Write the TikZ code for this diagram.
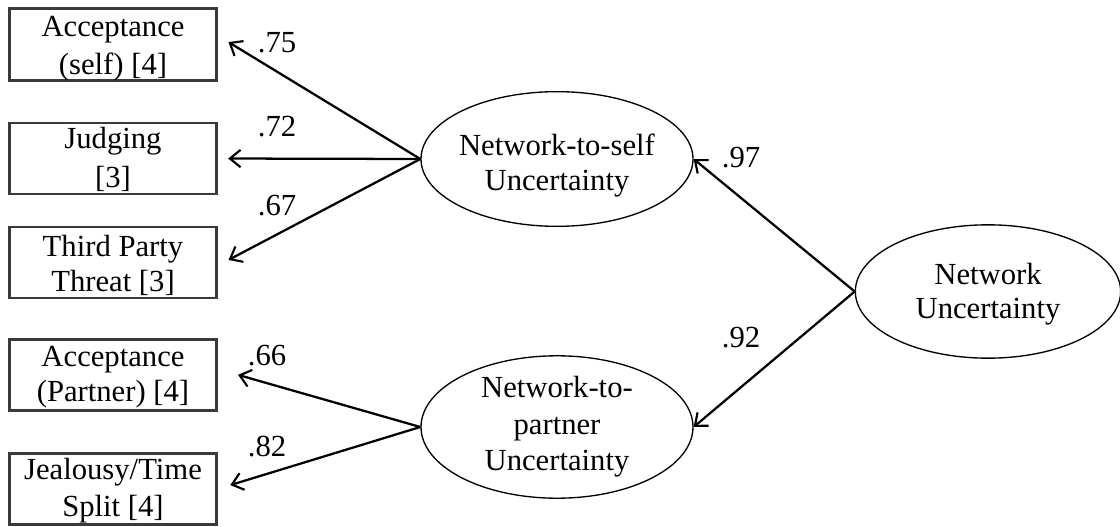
\documentclass[tikz,border=0pt]{standalone}
\usepackage{fontspec}
\setmainfont{Liberation Serif}
\usetikzlibrary{arrows.meta,shapes.geometric}
\definecolor{boxline}{HTML}{3A3A3A}
\newcommand\fl[1]{\rule{0pt}{#1}}
\begin{document}
\begin{tikzpicture}[x=0.75pt,y=-0.75pt,
  every node/.style={font=\fontsize{23}{27.5}\selectfont},
  lsk/.style={font=\fontsize{23}{#1}\selectfont},
  obs/.style={draw=boxline,line width=1.8pt,rectangle,minimum width=155pt,minimum height=53.5pt,inner sep=0pt,align=center},
  lat/.style={draw,line width=1pt,ellipse,inner xsep=-4pt,inner ysep=0pt,align=center},
  path/.style={draw,line width=1.7pt,-{Straight Barb[length=8pt,width=13pt,line width=1.6pt]}},
  coef/.style={inner sep=0pt}]
\useasboundingbox (0,0) rectangle (1120,527);
\node[obs,lsk=28.5pt] (b1) at (113,44.5) {\fl{20.8pt}Acceptance\\(self) [4]};
\node[obs,lsk=29pt] (b2) at (113,158.5) {\fl{17.4pt}Judging\\{[3]}};
\node[obs,lsk=26.3pt] (b3) at (113,262.5) {\fl{20.2pt}Third Party\\Threat [3]};
\node[obs,lsk=26.3pt] (b4) at (113,375) {\fl{19pt}Acceptance\\(Partner) [4]};
\node[obs,lsk=27.5pt] (b5) at (113,489) {\fl{18.2pt}Jealousy/Time\\Split [4]};
\node[lat,lsk=26.3pt,minimum width=204pt,minimum height=101pt] (self) at (557,159) {\fl{25.7pt}Network-to-self\\Uncertainty};
\node[lat,lsk=27.3pt,minimum width=204pt,minimum height=100pt] (partner) at (557,427) {Network-to-\\partner\\Uncertainty};
\node[lat,lsk=25.5pt,minimum width=199pt,minimum height=100pt] (net) at (988,291.5) {\fl{19.3pt}Network\\Uncertainty};
\draw[path,shorten >=9.6pt] (self.west) -- ([yshift=6.8pt]b1.east);
\draw[path,shorten >=8pt] (self.west) -- (b2.east);
\draw[path,shorten >=9.3pt] (self.west) -- ([yshift=-2.4pt]b3.east);
\draw[path,shorten >=16pt] (partner.west) -- ([yshift=4.5pt]b4.east);
\draw[path,shorten >=10pt] (partner.west) -- (b5.east);
\draw[path] (net.west) -- (self.east);
\draw[path] (net.west) -- (partner.east);
\node[coef] (c1) at (277,43) {.75};
\node[coef] (c2) at (277,127) {.72};
\node[coef] (c3) at (277,206) {.67};
\node[coef] (c4) at (267,356) {.66};
\node[coef] (c5) at (267,447) {.82};
\node[coef] (c6) at (741,158) {.97};
\node[coef] (c7) at (741,338) {.92};
\end{tikzpicture}
\end{document}
